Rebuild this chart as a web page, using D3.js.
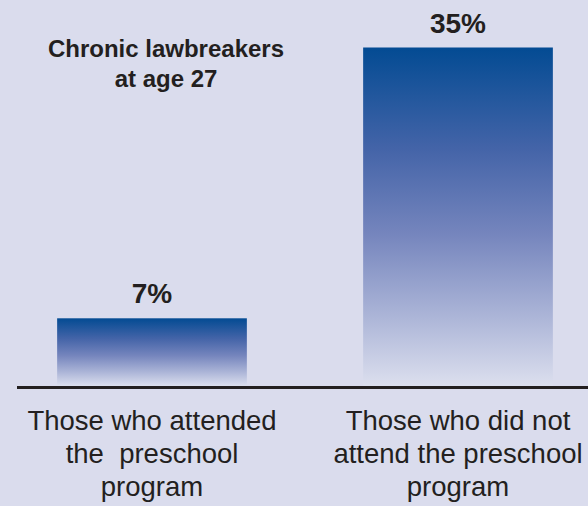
<!DOCTYPE html>
<html>
<head>
<meta charset="utf-8">
<script src="https://cdn.jsdelivr.net/npm/d3@7"></script>
<style>
  body { margin: 0; background: #dadced; }
  svg text { font-family: "Liberation Sans", Arial, sans-serif; fill: #231f20; }
</style>
</head>
<body>
<div class="chart"></div>
<script>
var categories = ["attended", "notAttended"];
var values = [7, 35];
var valueLabels = ["7%", "35%"];
var categoryLines = [
    ["Those who attended", "the  preschool", "program"],
    ["Those who did not", "attend the preschool", "program"]
];
var titleLines = ["Chronic lawbreakers", "at age 27"];

var width = 588, height = 506;

var svg = d3.select(".chart")
    .append("svg")
    .attr("width", width)
    .attr("height", height)
    .attr("style", "display:block; background:#dadced");

var xScale = d3.scaleBand()
    .domain(categories)
    .range([-1, 611])
    .paddingInner(0.38)
    .paddingOuter(0.19);

var yScale = d3.scaleLinear()
    .domain([0, 35])
    .range([386, 47.5]);

// vertical fade: deep blue at top, lavender mid tones, background at bottom
var defs = svg.append("defs");
var grad = defs.append("linearGradient")
    .attr("id", "barFade")
    .attr("x1", 0).attr("y1", 0)
    .attr("x2", 0).attr("y2", 1);
[["0%", "#034b93"], ["30%", "#4464a8"], ["55%", "#7585bd"], ["80%", "#adb6d8"], ["100%", "#dcdfee"]]
    .forEach(function(s) {
        grad.append("stop").attr("offset", s[0]).attr("stop-color", s[1]);
    });

// bars
svg.selectAll(".bar")
    .data(values)
    .enter().append("rect")
    .attr("class", "bar")
    .attr("x", function(d, i) { return xScale(categories[i]); })
    .attr("y", function(d) { return yScale(d); })
    .attr("width", xScale.bandwidth())
    .attr("height", function(d) { return yScale(0) - yScale(d); })
    .attr("fill", "url(#barFade)");

// baseline
svg.append("line")
    .attr("x1", 17)
    .attr("x2", width)
    .attr("y1", yScale(0) + 1.5)
    .attr("y2", yScale(0) + 1.5)
    .attr("stroke", "#231f20")
    .attr("stroke-width", 3);

// value labels
svg.selectAll(".value")
    .data(values)
    .enter().append("text")
    .attr("class", "value")
    .attr("x", function(d, i) { return xScale(categories[i]) + xScale.bandwidth() / 2; })
    .attr("y", function(d) { return yScale(d) - 15; })
    .attr("text-anchor", "middle")
    .style("font-size", "28px")
    .style("font-weight", "bold")
    .text(function(d, i) { return valueLabels[i]; });

// category labels
var catG = svg.selectAll(".cat")
    .data(categoryLines)
    .enter().append("text")
    .attr("class", "cat")
    .attr("text-anchor", "middle")
    .style("font-size", "27.5px")
    .style("white-space", "pre");

catG.selectAll("tspan")
    .data(function(d, i) {
        return d.map(function(line) { return {line: line, cat: categories[i]}; });
    })
    .enter().append("tspan")
    .attr("x", function(d) { return xScale(d.cat) + xScale.bandwidth() / 2; })
    .attr("y", function(d, j) { return 430 + j * 33; })
    .text(function(d) { return d.line; });

// title
svg.append("text")
    .attr("text-anchor", "middle")
    .style("font-size", "24px")
    .style("font-weight", "bold")
    .selectAll("tspan")
    .data(titleLines)
    .enter().append("tspan")
    .attr("x", 166)
    .attr("y", function(d, i) { return 57 + i * 30; })
    .text(function(d) { return d; });
</script>
</body>
</html>
